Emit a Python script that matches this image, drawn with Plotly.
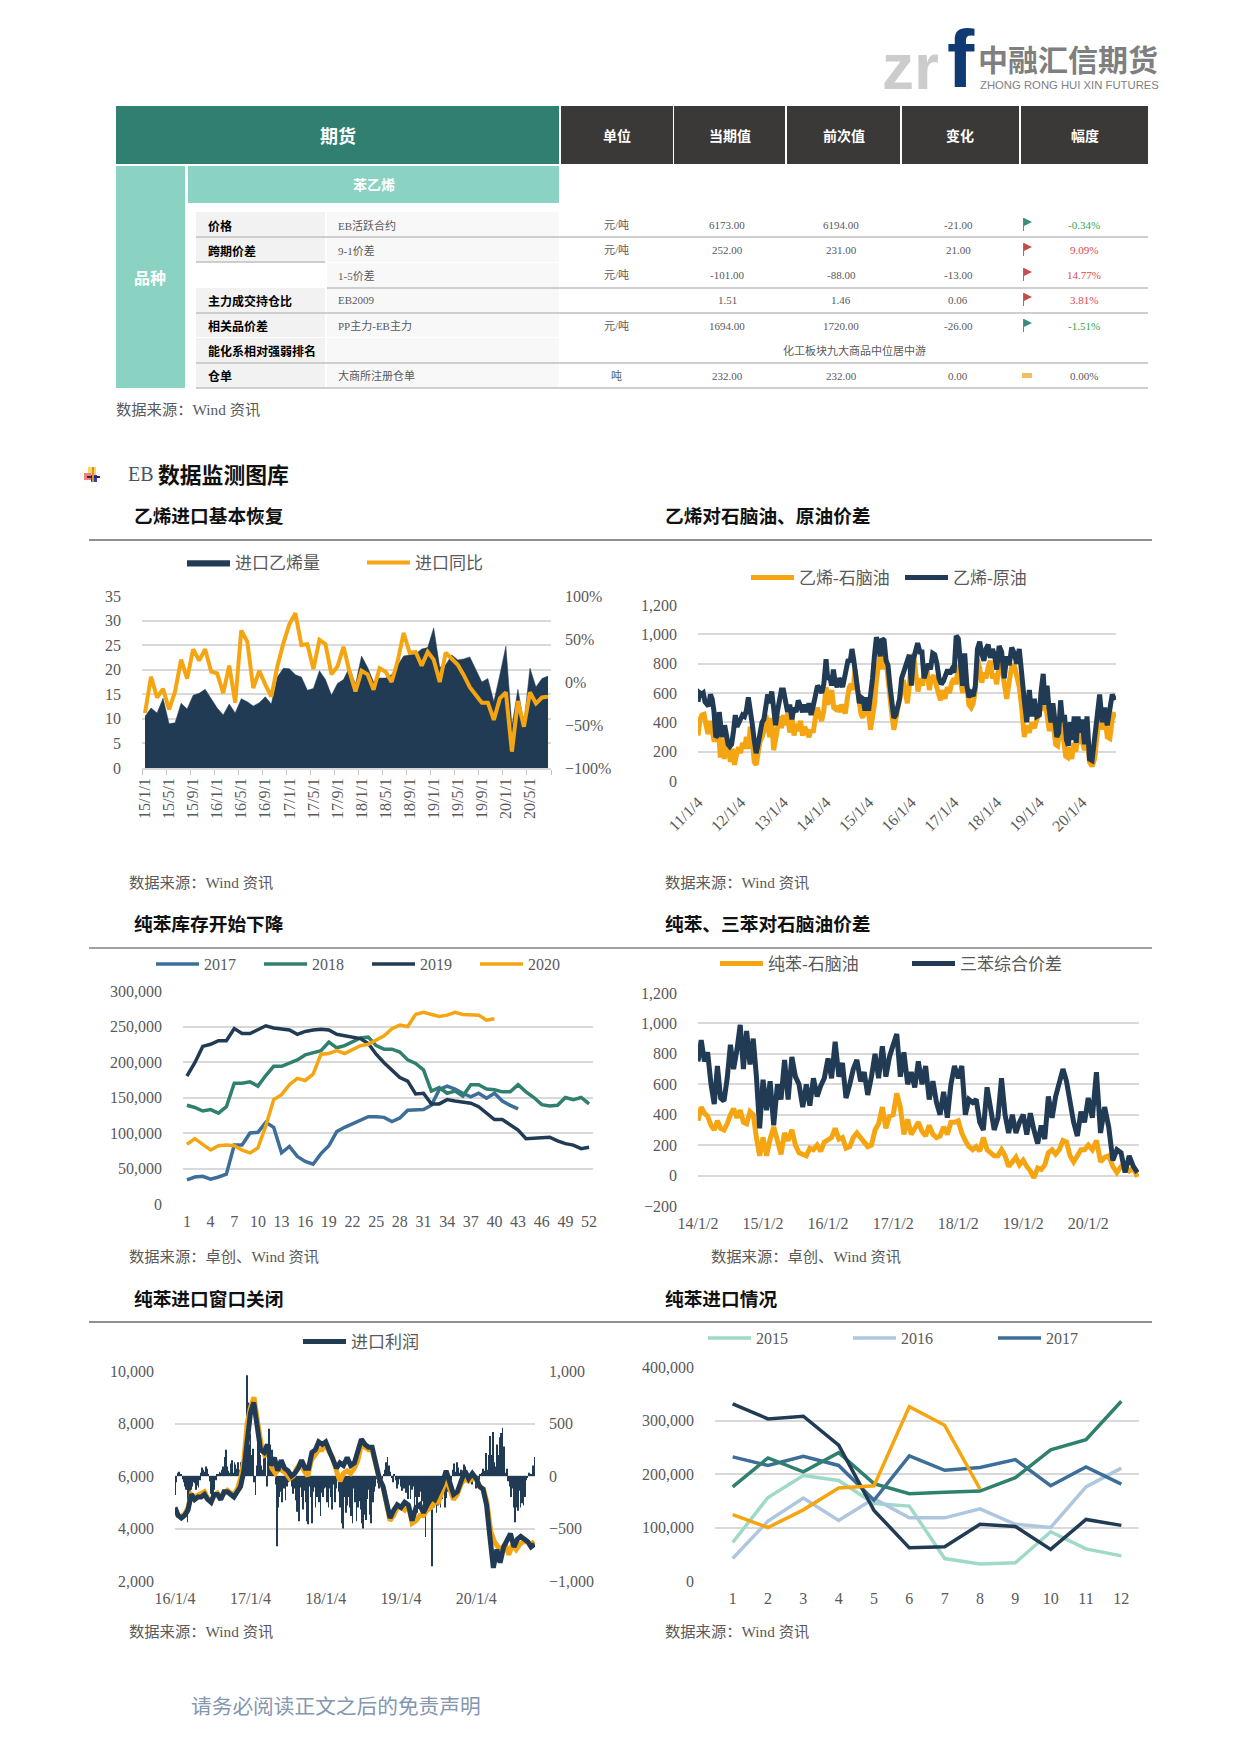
import pandas as pd
import plotly.graph_objects as go

W, H = 1240, 1754
NUM = "Liberation Serif, Noto Sans CJK SC"
CJK = "Noto Sans CJK SC"
GRAY = "#595959"
GRID = "#D9D9D9"
NAVY = "#213B54"
ORANGE = "#F5A511"
TEAL = "#2F806F"
BLUE = "#3D6E99"
MINT = "#9FD9C8"
PALE = "#AFC6DF"

# ---------- table ----------
table_headers = ["单位", "当期值", "前次值", "变化", "幅度"]
row_groups = ["价格", "跨期价差", "", "主力成交持仓比", "相关品价差", "能化系相对强弱排名", "仓单"]
row_items = ["EB活跃合约", "9-1价差", "1-5价差", "EB2009", "PP主力-EB主力", "", "大商所注册仓单"]
row_units = ["元/吨", "元/吨", "元/吨", "", "元/吨", "", "吨"]
row_current = ["6173.00", "252.00", "-101.00", "1.51", "1694.00", "", "232.00"]
row_previous = ["6194.00", "231.00", "-88.00", "1.46", "1720.00", "", "232.00"]
row_change = ["-21.00", "21.00", "-13.00", "0.06", "-26.00", "", "0.00"]
row_pct = ["-0.34%", "9.09%", "14.77%", "3.81%", "-1.51%", "", "0.00%"]
row_flag = ["down", "up", "up", "up", "down", "", "flat"]
rank_note = "化工板块九大商品中位居中游"

# ---------- chart 1 ----------
import_months = [f"{y}/{m}/1" for y in range(15, 21) for m in range(1, 13)][:68]
import_volume = [10.5, 12.2, 11.2, 14.2, 9.0, 9.2, 13.2, 12.0, 14.8, 15.2, 16.0, 14.0,
                 12.2, 10.8, 13.0, 11.2, 14.1, 13.5, 12.6, 13.3, 14.5, 13.0, 18.5, 20.3,
                 20.2, 19.0, 18.5, 15.8, 16.2, 19.8, 18.0, 14.8, 17.2, 18.0, 20.5, 17.0,
                 22.8, 20.5, 17.5, 18.3, 18.3, 19.0, 21.0, 22.8, 23.0, 23.2, 24.2, 24.5,
                 28.5, 20.5, 21.0, 23.0, 22.0, 22.2, 22.6, 20.0, 17.5, 18.2, 13.5, 19.0,
                 24.8, 8.5, 16.0, 9.0, 20.3, 16.5, 18.2, 18.7]
import_yoy = [-36, 6, -18, -8, -32, -11, 26, 4, 38, 25, 38, 12, 10, -13, 19, -24,
              60, 47, -7, 13, -3, -17, 18, 45, 67, 80, 43, 44, 15, 49, 44, 9, 18, 41, 12, -11,
              13, 9, -9, 16, 12, 0, 24, 57, 34, 35, 19, 35, 26, 0, 34, 27, 20, 8, -6, -15,
              -24, -24, -44, -19, -12, -81, -22, -52, -12, -25, -18, -17]

# ---------- chart 2 ----------
nap_2011 = [310, 420, 450, 455, 380, 320, 410, 350, 270, 300, 400, 160, 290, 150, 300, 210, 130, 220, 110, 180, 230]
nap_2012 = [190, 260, 220, 300, 220, 370, 300, 130, 110, 220, 270, 300, 340, 450, 350, 300, 430, 210, 280, 380, 440, 360]
nap_2013 = [450, 380, 460, 330, 440, 310, 390, 340, 410, 310, 370, 340, 300, 350, 330, 430, 500, 440, 410, 480]
nap_2014 = [640, 520, 590, 620, 500, 490, 510, 470, 520, 480, 460, 560, 640, 660, 620, 760, 650, 540, 460, 430, 520, 460]
nap_2015 = [460, 350, 420, 520, 680, 780, 880, 760, 860, 820, 680, 600, 450, 350, 410, 490, 560, 640, 690, 600, 530, 650]
nap_2016 = [840, 860, 720, 610, 700, 650, 760, 760, 620, 700, 720, 640, 600, 550, 620, 560, 640, 600, 670]
nap_2017 = [700, 660, 790, 700, 600, 790, 600, 520, 500, 530, 620, 830, 770, 670, 740, 700, 780, 820, 700, 730]
nap_2018 = [660, 800, 780, 650, 560, 680, 780, 790, 700, 640, 500, 300, 380, 330, 400, 360, 420]
nap_2019 = [460, 600, 480, 520, 420, 340, 440, 380, 250, 240, 330, 400, 280, 170, 160, 230, 150, 260, 200, 330, 270]
nap_2020 = [280, 210, 340, 130, 100, 150, 300, 480, 350, 460, 300, 290, 420, 470]
crude_2011 = [540, 600, 590, 600, 540, 520, 510, 590, 560, 480, 300, 310, 470, 360, 300, 380, 300, 250, 235, 250, 340, 450, 370, 400]
crude_2012 = [410, 450, 440, 480, 570, 500, 390, 280, 190, 250, 350, 400, 420, 550, 590, 530, 610, 500, 380, 480, 540, 620]
crude_2013 = [620, 540, 470, 520, 420, 500, 470, 550, 500, 470, 520, 470, 530, 450, 510, 600, 650, 630, 600, 660]
crude_2014 = [830, 690, 720, 650, 760, 670, 640, 700, 680, 640, 720, 800, 830, 810, 900, 820, 700, 620, 530, 570, 560, 480, 570]
crude_2015 = [480, 570, 700, 850, 980, 940, 850, 970, 960, 820, 790, 650, 550, 430, 450, 520, 560, 700, 750, 800, 820, 860]
crude_2016 = [650, 830, 900, 940, 880, 880, 700, 770, 800, 760, 870, 860, 800, 700, 660, 680, 720, 760, 730, 760]
crude_2017 = [740, 990, 970, 780, 650, 870, 650, 570, 600, 580, 650, 900, 950, 870, 820, 900, 930, 840, 900, 860]
crude_2018 = [760, 920, 880, 700, 850, 790, 910, 870, 800, 900, 690, 550, 400, 620, 440, 560, 440]
crude_2019 = [450, 620, 730, 520, 650, 500, 400, 530, 440, 300, 330, 550, 400, 450, 280, 240, 400, 280, 440, 260, 440, 330]
crude_2020 = [420, 250, 440, 150, 140, 280, 470, 590, 400, 500, 380, 500, 590, 550]
spread_ticks = ["11/1/4", "12/1/4", "13/1/4", "14/1/4", "15/1/4", "16/1/4", "17/1/4", "18/1/4", "19/1/4", "20/1/4"]

# ---------- chart 3 ----------
weeks = [str(i) for i in range(1, 53)]
stock_2017 = [34000, 38000, 39000, 35000, 38000, 42000, 83000, 83000, 100000, 101000, 115000, 108000, 72000, 81000,
              67000, 60000, 56000, 71000, 82000, 102000, 108000, 113000, 117000, 123000, 123000, 122000, 116000, 121000,
              132000, 133000, 133000, 139000, 161000, 166000, 162000, 156000, 151000, 156000, 149000, 156000, 145000,
              139000, 134000]
stock_2018 = [139000, 136000, 131000, 133000, 128000, 137000, 170000, 170000, 172000, 166000, 181000, 194000, 194000,
              198000, 203000, 210000, 213000, 216000, 228000, 220000, 223000, 228000, 234000, 235000, 223000, 218000,
              218000, 214000, 203000, 198000, 189000, 159000, 164000, 156000, 159000, 152000, 168000, 168000, 162000,
              161000, 158000, 158000, 168000, 158000, 150000, 140000, 138000, 139000, 150000, 147000, 150000, 141000]
stock_2019 = [180000, 199000, 222000, 225000, 230000, 230000, 247000, 240000, 240000, 246000, 251000, 248000, 247000,
              245000, 239000, 243000, 245000, 246000, 245000, 239000, 237000, 235000, 233000, 226000, 211000, 199000,
              188000, 178000, 173000, 155000, 156000, 141000, 141000, 147000, 145000, 143000, 142000, 137000, 128000,
              119000, 119000, 111000, 104000, 92000, 93000, 93000, 94000, 89000, 85000, 83000, 78000, 80000]
stock_2020 = [84000, 92000, 84000, 76000, 82000, 83000, 82000, 76000, 72000, 79000, 110000, 147000, 154000, 168000,
              177000, 174000, 183000, 211000, 212000, 216000, 212000, 218000, 223000, 225000, 231000, 237000, 247000,
              252000, 250000, 267000, 270000, 267000, 264000, 266000, 270000, 267000, 266000, 266000, 259000, 261000]

# ---------- chart 4 ----------
bz_2014 = [360, 450, 410, 390, 330, 300, 360, 310, 300, 340, 400, 440, 380, 430, 350, 340, 420, 400, 250, 130]
bz_2015 = [250, 130, 240, 320, 230, 140, 280, 230, 300, 200, 150, 140, 130, 180, 170, 200, 160, 220]
bz_2016 = [240, 250, 310, 240, 250, 180, 190, 250, 280, 250, 220, 190, 200, 300, 340, 450, 310, 390]
bz_2017 = [400, 540, 450, 270, 370, 270, 310, 350, 290, 260, 330, 270, 250, 260, 320, 270, 350, 350]
bz_2018 = [360, 280, 230, 190, 170, 190, 160, 250, 170, 150, 130, 130, 170, 130, 60, 90, 120, 70]
bz_2019 = [100, 60, 30, -15, 50, 40, 70, 150, 170, 140, 170, 230, 220, 130, 90, 130, 170, 170]
bz_2020 = [200, 170, 230, 90, 120, 130, 60, 20, 60, 50, 30, 50, -10]
tri_2014 = [750, 890, 750, 810, 600, 470, 720, 510, 490, 640, 860, 700, 830, 990, 700, 950, 730, 900, 650, 310]
tri_2015 = [630, 430, 620, 330, 600, 500, 760, 500, 780, 650, 600, 450, 600, 460, 640, 520, 590, 640]
tri_2016 = [770, 640, 880, 650, 740, 510, 600, 700, 760, 620, 680, 530, 650, 800, 640, 850, 650, 780]
tri_2017 = [860, 930, 650, 810, 600, 680, 580, 750, 600, 720, 500, 620, 480, 400, 550, 380, 600, 720]
tri_2018 = [640, 720, 400, 500, 480, 500, 350, 300, 580, 430, 300, 380, 640, 400, 280, 400, 280, 350]
tri_2019 = [400, 270, 410, 300, 210, 330, 240, 520, 380, 520, 600, 700, 620, 480, 350, 260, 420, 350]
tri_2020 = [510, 380, 680, 280, 450, 320, 100, 170, 150, 20, 130, 60, 20]
bz_ticks = ["14/1/2", "15/1/2", "16/1/2", "17/1/2", "18/1/2", "19/1/2", "20/1/2"]

# ---------- chart 5 ----------
win_o_2016 = [4700, 4500, 4450, 4550, 4800, 5300, 5200, 5250, 5350, 5400, 5150, 5000, 5250, 5350, 5200, 5350, 5450, 5350, 5300, 5500, 5900, 6600, 8000]
win_o_2017 = [8600, 9000, 8100, 7200, 6800, 6900, 6300, 6100, 6300, 6200, 6100, 5900, 6000, 6300, 6500, 6200, 6000, 6600, 6800, 7000, 7000]
win_o_2018 = [7200, 6900, 6700, 6200, 5800, 6100, 6200, 6100, 6300, 6600, 7200, 7100, 7000, 7000, 6400, 5900, 5600, 5000, 4300, 4500, 4800]
win_o_2019 = [4800, 4700, 4900, 4200, 4300, 4500, 4500, 4700, 4800, 5000, 5000, 5400, 5900, 5500, 5100, 5300, 5700, 5900, 5800, 5900]
win_o_2020 = [5900, 5600, 5500, 5000, 3900, 3500, 3300, 3200, 3400, 3000, 3400, 3200, 3400, 3500, 3500, 3400, 3500]
win_n_2016 = [4800, 4500, 4400, 4500, 4700, 5300, 5100, 5200, 5200, 5300, 5100, 5000, 5300, 5300, 5100, 5400, 5400, 5300, 5200, 5400, 5600, 6200, 7500]
win_n_2017 = [8400, 8800, 7900, 7000, 6900, 7200, 6400, 6700, 6200, 6600, 6300, 6200, 6000, 6100, 6300, 6600, 6300, 6300, 6900, 7000, 7300, 7200]
win_n_2018 = [7300, 7000, 6700, 6300, 6500, 6400, 6700, 6400, 6500, 6900, 7400, 7200, 7100, 7100, 6400, 5900, 5600, 5000, 4400, 4700, 4900]
win_n_2019 = [4800, 5000, 4900, 4300, 4800, 4900, 4600, 4900, 5200, 5100, 5400, 5700, 6200, 5700, 5300, 5400, 5800, 6200, 5900, 6100]
win_n_2020 = [5900, 5600, 5500, 4900, 3700, 2500, 3200, 2700, 3300, 3600, 3800, 3300, 3600, 3700, 3600, 3500, 3300, 3400]
profit_2016 = [-180, -60, 30, 40, 20, 10, -30, -60, -100, -130, -440, -300, -180, -130, -100, -60, -70, -130, -90, -110,
               -40, 30, 80, 60, 40, 90, 70, 20, -50, -170, -200, -160, -130, -40, 10, 20, 40, 30, 60, 90,
               180, 250, 90, 50, 30, 120, 150, 30, 130, 110, 70, 130, 60, 130, 140, 120, 40, 500, 960, 700, 300]
profit_2017 = [400, 200, 260, -60, -180, 100, 420, 300, 200, 100, 60, 280, 300, -100, 200, 450, 300, 250, 120, 60,
               -80, -670, -300, -200, -150, -250, -100, -120, -230, -100, -60, -50, -30, -100, -170, -120, -230, -340, -300, -430,
               -110, -200, -320, -140, -250, -430, -460, -100, -200, -450, -150, -110, -300, -200, -100, -250, -380, -160, -200, -120]
profit_2018 = [-110, -250, -300, -120, -200, -320, -80, -250, -120, -30, -150, -300, -450, -500, -200, -350, -280, -200,
               -300, -380, -450, -120, -250, -430, -300, -240, -320, -450, -500, -370, -420, -220, -130, -370, -450, -250,
               -150, -100, -30, -70, -120, -100, -30, 20, 60, 130, 180, 100, 40, -20, -60, 10, -40, -120, -80, -30]
profit_2019 = [-100, -140, -120, -60, -160, -220, -90, -220, -130, -100, -320, -200, -350, -200, -150, -300, -240, -380,
               -580, -320, -280, -300, -200, -860, -300, -180, -350, -280, -180, -300, -220, -160, -300, -210, -150, -100,
               -130, -40, 60, 120, 40, 130, 80, 30, 60, 20, 110, 90, 10, -60, -20, 30, -80, -40, -20]
profit_2020 = [-120, -60, -40, 20, 30, 70, 50, 220, 60, 200, 380, 200, 420, 130, 90, 300, 200, 370, 410, 460, 280, 30, 70,
               -50, -100, -200, -120, -300, -440, -300, -330, -140, -300, -260, -280, -200, -40, -10, 30, 10, 20, 100, 180]
win_ticks = ["16/1/4", "17/1/4", "18/1/4", "19/1/4", "20/1/4"]

# ---------- chart 6 ----------
months = [str(i) for i in range(1, 13)]
bz_import_2015 = [72000, 156000, 197000, 188000, 145000, 140000, 42000, 32000, 34000, 92000, 60000, 47000]
bz_import_2016 = [42000, 112000, 155000, 113000, 154000, 118000, 118000, 135000, 106000, 100000, 176000, 211000]
bz_import_2017 = [232000, 216000, 233000, 216000, 151000, 234000, 207000, 212000, 227000, 178000, 213000, 181000]
bz_import_2018 = [176000, 230000, 204000, 240000, 182000, 163000, 166000, 168000, 193000, 245000, 264000, 336000]
bz_import_2019 = [331000, 303000, 308000, 254000, 132000, 62000, 64000, 106000, 102000, 59000, 115000, 104000]
bz_import_2020 = [124000, 100000, 133000, 174000, 178000, 326000, 291000, 172000]


def fx(x):
    return x / W


def fy(y):
    return 1 - y / H


def spread(starts, end, *chunks):
    stops = starts[1:] + [end]
    out = []
    for a, b, c in zip(starts, stops, chunks):
        out += [d.strftime("%Y-%m-%d") for d in pd.date_range(a, b, periods=len(c) + 1)[:-1]]
    vals = [v for c in chunks for v in c]
    return out, vals


shapes = []
notes = []


def rect(x0, y0, x1, y1, color):
    shapes.append(dict(type="rect", xref="paper", yref="paper", x0=fx(x0), x1=fx(x1), y0=fy(y0), y1=fy(y1),
                       fillcolor=color, line_width=0, layer="below"))


def hline(x0, x1, y, color, width=1.0):
    shapes.append(dict(type="line", xref="paper", yref="paper", x0=fx(x0), x1=fx(x1), y0=fy(y), y1=fy(y),
                       line=dict(color=color, width=width), layer="below"))


def note(text, x, y, size=14, color=GRAY, anchor="left", bold=False, family=NUM):
    # text boxes carry ~2px of padding on the anchored side
    x = x - 2 if anchor == "left" else x
    notes.append(dict(text=text, xref="paper", yref="paper", x=fx(x), y=fy(y - 1), showarrow=False, xanchor=anchor,
                      yanchor="middle", font=dict(size=size, color=color, family=family,
                                                  weight=700 if bold else 400)))


def flag(x, y, kind):
    if kind == "flat":
        rect(x - 1, y - 3, x + 9, y + 2, "#F0C060")
        return
    color = "#3C8C7C" if kind == "down" else "#C0504D"
    rect(x, y - 7, x + 1, y + 6, "#7F7F7F")
    p = f"M {fx(x + 1)} {fy(y - 7)} L {fx(x + 9)} {fy(y - 3)} L {fx(x + 1)} {fy(y + 1)} Z"
    shapes.append(dict(type="path", xref="paper", yref="paper", path=p, fillcolor=color, line_width=0))


# logo
note("zr", 882, 68, 64, "#CCCCCC", bold=True, family="Liberation Sans")
note("f", 947, 59, 82, "#0F3A72", bold=True, family="Liberation Sans")
note("中融汇信期货", 978, 59, 30, "#7F7F7F", bold=True, family=CJK)
note("ZHONG RONG HUI XIN FUTURES", 980, 86, 11.3, "#7F7F7F", family="Liberation Sans")

# table header
rect(116, 106, 559, 164, "#317F71")
note("期货", 338, 136, 18, "white", "center", True, CJK)
col_edges = [(561, 673), (674, 785), (787, 900), (902, 1019), (1021, 1148)]
for (a, b), t in zip(col_edges, table_headers):
    rect(a, 106, b, 164, "#3B3838")
    note(t, (a + b) / 2, 136, 14, "white", "center", True, CJK)
rect(116, 166, 185, 388, "#8AD3C3")
note("品种", 150, 278, 16, "white", "center", True, CJK)
rect(188, 166, 559, 203, "#8AD3C3")
note("苯乙烯", 374, 185, 14, "white", "center", True, CJK)

row_top = [212, 237, 263, 288, 314, 338, 364, 388]
row_mid = [226, 251, 276, 301, 327, 352, 377]
for i in range(7):
    if row_groups[i]:
        rect(196, row_top[i], 325, row_top[i + 1] - 1, "#F2F2F2")
    rect(327, row_top[i], 559, row_top[i + 1] - 1, "#F8F8F8")
    note(row_groups[i], 208, row_mid[i], 12, "black", "left", True, CJK)
    note(row_items[i], 338, row_mid[i], 11, GRAY)
    note(row_units[i], 616, row_mid[i], 11, GRAY, "center")
    note(row_current[i], 727, row_mid[i], 11, GRAY, "center")
    note(row_previous[i], 841, row_mid[i], 11, GRAY, "center")
    note(row_change[i], 958, row_mid[i], 11, GRAY, "center")
    if row_pct[i]:
        c = "#2FA84F" if row_flag[i] == "down" else "#E0474C" if row_flag[i] == "up" else GRAY
        note(row_pct[i], 1084, row_mid[i], 11, c, "center")
        flag(1023, row_mid[i] - 1, row_flag[i])
note(rank_note, 854, 352, 11, GRAY, "center")
for y, a in [(237, 196), (288, 327), (313, 196), (363, 196), (388, 196)]:
    hline(a, 1148, y, "#BFBFBF", 1.5)
hline(196, 325, 262, "#BFBFBF", 1.5)
note("数据来源：Wind 资讯", 116, 410, 15.3)

# section heading
rect(88, 467, 96, 475, "#F6D860")
rect(84, 473, 91, 480, "#F08080")
rect(91, 475, 97, 482, "#3A3AC0")
rect(87, 476, 100, 478, "#24246E")
rect(92, 467, 94, 482, "#E0902A")
note("EB", 128, 475, 20, "#44546A")
note("数据监测图库", 158, 475, 21.8, "#111111", bold=True, family=CJK)

titles = [("乙烯进口基本恢复", 134, 516), ("乙烯对石脑油、原油价差", 665, 516), ("纯苯库存开始下降", 134, 923),
          ("纯苯、三苯对石脑油价差", 665, 923), ("纯苯进口窗口关闭", 134, 1298), ("纯苯进口情况", 665, 1298)]
for t, x, y in titles:
    note(t, x, y, 18.7, "#111111", bold=True, family=CJK)
hline(89, 1152, 540, "#222222", 1.2)
hline(89, 1152, 948, "#444444", 1.2)
hline(89, 1152, 1322, "#222222", 1.2)

sources = [("数据来源：Wind 资讯", 129, 883), ("数据来源：Wind 资讯", 665, 883), ("数据来源：卓创、Wind 资讯", 129, 1257),
           ("数据来源：卓创、Wind 资讯", 711, 1257), ("数据来源：Wind 资讯", 129, 1632), ("数据来源：Wind 资讯", 665, 1632)]
for t, x, y in sources:
    note(t, x, y, 15.3)
note("请务必阅读正文之后的免责声明", 191, 1706, 20.7, "#8496B0", family=CJK)

fig = go.Figure()

# chart traces
fig.add_trace(go.Scatter(x=import_months, y=import_volume, name="进口乙烯量", mode="lines", fill="tozeroy",
                         fillcolor=NAVY, line=dict(color=NAVY, width=0.5), xaxis="x", yaxis="y", legend="legend"))
fig.add_trace(go.Scatter(x=import_months, y=import_yoy, name="进口同比", mode="lines",
                         line=dict(color=ORANGE, width=4), xaxis="x", yaxis="y2", legend="legend"))

years2 = [f"{y}-01-04" for y in range(2011, 2021)]
x_nap, y_nap = spread(years2, "2020-11-02", nap_2011, nap_2012, nap_2013, nap_2014, nap_2015, nap_2016, nap_2017,
                      nap_2018, nap_2019, nap_2020)
x_cru, y_cru = spread(years2, "2020-11-02", crude_2011, crude_2012, crude_2013, crude_2014, crude_2015, crude_2016,
                      crude_2017, crude_2018, crude_2019, crude_2020)
fig.add_trace(go.Scatter(x=x_nap, y=y_nap, name="乙烯-石脑油", mode="lines", line=dict(color=ORANGE, width=5),
                         xaxis="x2", yaxis="y3", legend="legend2"))
fig.add_trace(go.Scatter(x=x_cru, y=y_cru, name="乙烯-原油", mode="lines", line=dict(color=NAVY, width=5),
                         xaxis="x2", yaxis="y3", legend="legend2"))

for name, vals, c in [("2017", stock_2017, BLUE), ("2018", stock_2018, TEAL), ("2019", stock_2019, NAVY),
                      ("2020", stock_2020, ORANGE)]:
    fig.add_trace(go.Scatter(x=weeks[:len(vals)], y=vals, name=name, mode="lines", line=dict(color=c, width=3.5),
                             xaxis="x3", yaxis="y4", legend="legend3"))

years4 = [f"{y}-01-02" for y in range(2014, 2021)]
x_bz, y_bz = spread(years4, "2020-10-28", bz_2014, bz_2015, bz_2016, bz_2017, bz_2018, bz_2019, bz_2020)
x_tri, y_tri = spread(years4, "2020-10-28", tri_2014, tri_2015, tri_2016, tri_2017, tri_2018, tri_2019, tri_2020)
fig.add_trace(go.Scatter(x=x_bz, y=y_bz, name="纯苯-石脑油", mode="lines", line=dict(color=ORANGE, width=5),
                         xaxis="x4", yaxis="y5", legend="legend4"))
fig.add_trace(go.Scatter(x=x_tri, y=y_tri, name="三苯综合价差", mode="lines", line=dict(color=NAVY, width=5),
                         xaxis="x4", yaxis="y5", legend="legend4"))

years5 = [f"{y}-01-04" for y in range(2016, 2021)]
x_p, y_p = spread(years5, "2020-10-20", profit_2016, profit_2017, profit_2018, profit_2019, profit_2020)
x_o, y_o = spread(years5, "2020-10-30", win_o_2016, win_o_2017, win_o_2018, win_o_2019, win_o_2020)
x_n, y_n = spread(years5, "2020-10-30", win_n_2016, win_n_2017, win_n_2018, win_n_2019, win_n_2020)
fig.add_trace(go.Bar(x=x_p, y=y_p, name="进口利润", marker=dict(color=NAVY, line_width=0), showlegend=False,
                     xaxis="x5", yaxis="y6"))
fig.add_trace(go.Scatter(x=x_o, y=y_o, name="纯苯价格", mode="lines", line=dict(color=ORANGE, width=5),
                         showlegend=False, xaxis="x5", yaxis="y7"))
fig.add_trace(go.Scatter(x=x_n, y=y_n, name="进口利润", mode="lines", line=dict(color=NAVY, width=5),
                         xaxis="x5", yaxis="y7", legend="legend5"))

for name, vals, c, show in [("2015", bz_import_2015, MINT, True), ("2016", bz_import_2016, PALE, True),
                            ("2017", bz_import_2017, BLUE, True), ("2018", bz_import_2018, TEAL, False),
                            ("2019", bz_import_2019, NAVY, False), ("2020", bz_import_2020, ORANGE, False)]:
    fig.add_trace(go.Scatter(x=months[:len(vals)], y=vals, name=name, mode="lines", line=dict(color=c, width=3.5),
                             showlegend=show, xaxis="x6", yaxis="y8", legend="legend6"))


def legend_cfg(x, y, entry, size=16):
    return dict(x=fx(x), y=fy(y), xanchor="left", yanchor="middle", orientation="h", itemwidth=43,
                entrywidth=entry, entrywidthmode="pixels", bgcolor="rgba(0,0,0,0)", traceorder="normal",
                font=dict(size=size, color=GRAY, family=NUM), itemclick=False, itemdoubleclick=False)


tick_font = dict(size=16, color=GRAY, family=NUM)


def y_axis(top, bottom, rng, dtick, **kw):
    d = dict(domain=[fy(bottom), fy(top)], range=rng, dtick=dtick, showgrid=True, gridcolor=GRID, gridwidth=2,
             zeroline=False, showline=False, tickfont=tick_font, tickformat=",", ticks="", ticklabelstandoff=20,
             automargin=False)
    d.update(kw)
    return d


def x_axis(left, right, anchor, **kw):
    d = dict(domain=[fx(left), fx(right)], anchor=anchor, showgrid=False, zeroline=False, showline=False,
             tickfont=tick_font, ticks="", ticklabelstandoff=6, automargin=False)
    d.update(kw)
    return d


fig.update_layout(
    width=W, height=H, margin=dict(l=0, r=0, t=0, b=0, autoexpand=False), paper_bgcolor="white", plot_bgcolor="white",
    shapes=shapes, annotations=notes, bargap=0.4, font=dict(family=NUM, color=GRAY), hovermode=False,
    legend=legend_cfg(182, 563, 122, 17),
    legend2=legend_cfg(746, 578, 96, 17),
    legend3=legend_cfg(151, 964, 50),
    legend4=legend_cfg(715, 964, 134, 17),
    legend5=legend_cfg(298, 1342, 70, 17),
    legend6=legend_cfg(703, 1338, 87),
    xaxis=x_axis(142, 551, "y", type="category", categoryorder="array", categoryarray=import_months,
                 range=[-0.5, 67.5], tickson="boundaries", dtick=4, tick0=0, tickangle=-90, ticks="outside",
                 ticklen=5, tickcolor="#BFBFBF", showline=True, linecolor="#D9D9D9", linewidth=1.5,
                 ticklabelstandoff=2),
    yaxis=y_axis(596, 768, [0, 35], 5, anchor="x"),
    yaxis2=y_axis(596, 768, [-100, 100], 50, anchor="x", overlaying="y", side="right", showgrid=False,
                  ticksuffix="%", tickformat="d", ticklabelstandoff=13),
    xaxis2=x_axis(698, 1116, "y3", type="date", range=["2011-01-04", "2020-10-21"],
                  tickmode="array", tickvals=years2, ticktext=spread_ticks, tickangle=-45, ticklabelstandoff=8),
    yaxis3=y_axis(605, 781, [0, 1200], 200, anchor="x2"),
    xaxis3=x_axis(183, 593, "y4", type="category", categoryorder="array", categoryarray=weeks,
                  range=[-0.5, 51.5], dtick=3, tick0=0),
    yaxis4=y_axis(991, 1204, [0, 300000], 50000, anchor="x3"),
    xaxis4=x_axis(698, 1139, "y5", type="date", range=["2014-01-02", "2020-10-13"],
                  tickmode="array", tickvals=years4, ticktext=bz_ticks, tickangle=0),
    yaxis5=y_axis(993, 1206, [-200, 1200], 200, anchor="x4"),
    xaxis5=x_axis(175, 535, "y6", type="date", range=["2016-01-04", "2020-10-15"],
                  tickmode="array", tickvals=years5, ticktext=win_ticks, tickangle=0),
    yaxis6=y_axis(1371, 1581, [-1000, 1000], 500, anchor="x5", side="right", ticklabelstandoff=13),
    yaxis7=y_axis(1371, 1581, [2000, 10000], 2000, anchor="x5", overlaying="y6", side="left", showgrid=False),
    xaxis6=x_axis(715, 1139, "y8", type="category", categoryorder="array", categoryarray=months,
                  range=[-0.5, 11.5]),
    yaxis8=y_axis(1367, 1581, [0, 400000], 100000, anchor="x6"),
)

fig.write_html("out.html", post_script="document.body.style.margin='0';", config={"displayModeBar": False})
